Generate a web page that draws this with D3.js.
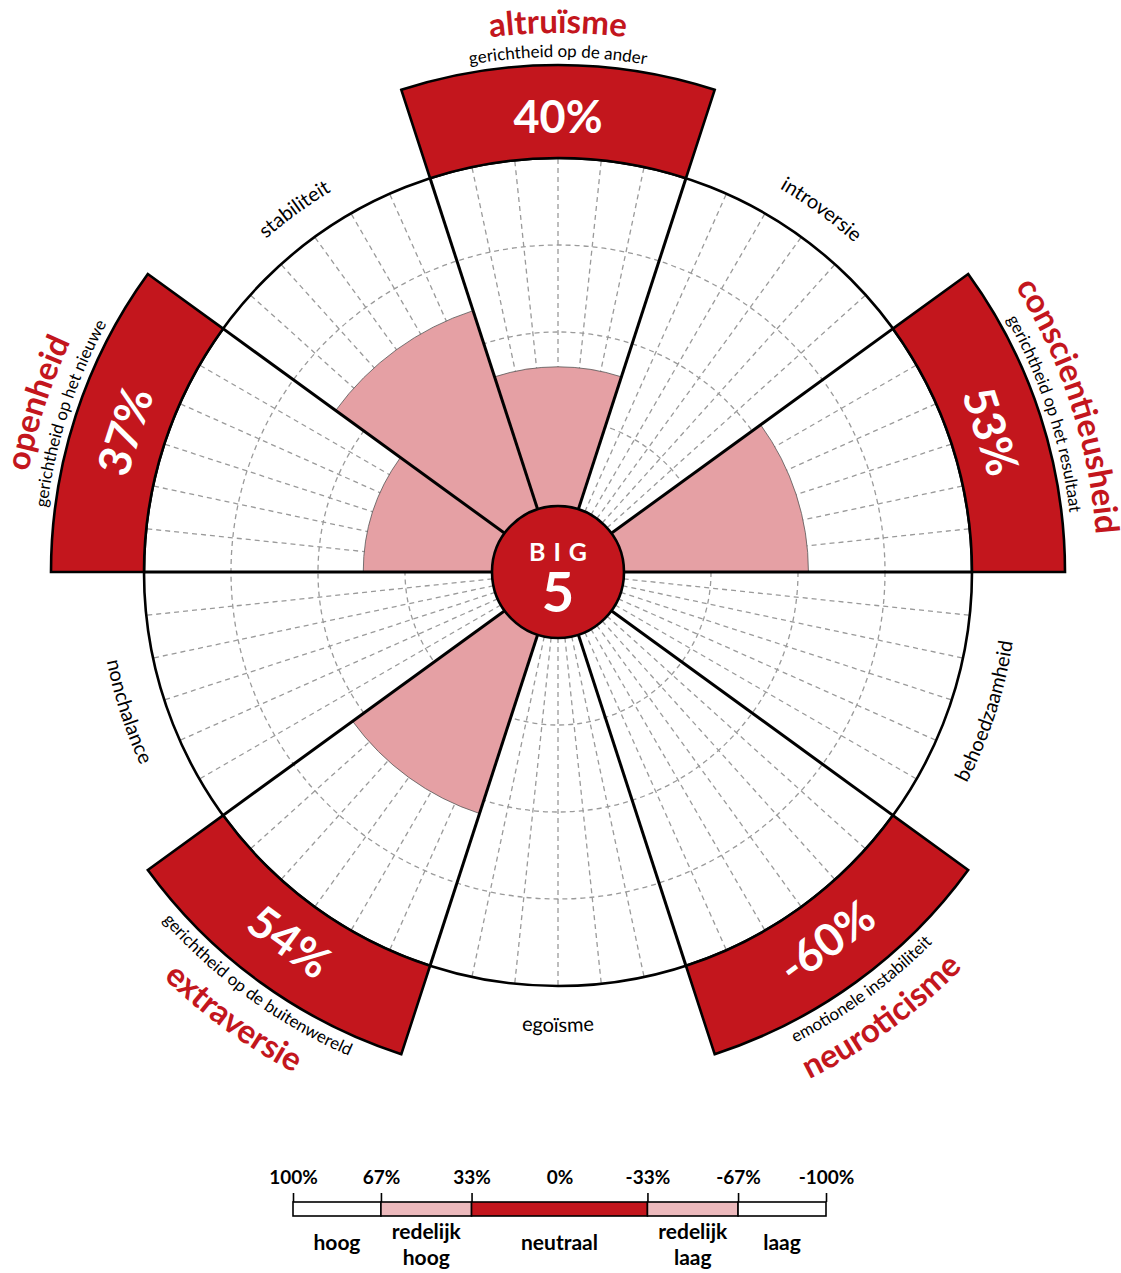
<!DOCTYPE html>
<html>
<head>
<meta charset="utf-8">
<script src="https://cdn.jsdelivr.net/npm/d3@7"></script>
<style>
  html, body { margin: 0; padding: 0; background: #fff; }
  svg { display: block; font-family: Lato, "Open Sans", sans-serif; }
</style>
</head>
<body>
<svg id="chart" width="1121" height="1273"></svg>
<script>
// ---- data ----
const traitNames = ["altruïsme", "conscientieusheid", "neuroticisme", "extraversie", "openheid"];
const traitSubtitles = ["gerichtheid op de ander", "gerichtheid op het resultaat", "emotionele instabiliteit", "gerichtheid op de buitenwereld", "gerichtheid op het nieuwe"];
const traitValues = [40, 53, -60, 54, 37];
const oppositeNames = ["egoïsme", "nonchalance", "stabiliteit", "introversie", "behoedzaamheid"];
const centerLines = ["BIG", "5"];
const legendBreaks = [100, 67, 33, 0, -33, -67, -100];
const legendLevels = [["hoog"], ["redelijk", "hoog"], ["neutraal"], ["redelijk", "laag"], ["laag"]];

// ---- layout ----
const W = 1121, H = 1273;
const cx = 558, cy = 572;
const rInner = 66, rOuter = 414, rBand = 507;
const RED = "#c3161d", PINK = "#e5a0a4", LPINK = "#ecb9bc";
const deg = Math.PI / 180;
const sectorSpan = 36;

const svg = d3.select("#chart");
const g = svg.append("g").attr("transform", `translate(${cx},${cy})`);

const rScale = d3.scaleLinear().domain([0, 100]).range([rInner, rOuter]);
const traitAngle = d3.scaleLinear().domain([0, traitNames.length]).range([0, 360]);

const sectors = [];
traitNames.forEach((n, i) => {
  const a = traitAngle(i);
  sectors.push({ name: n, angle: a, trait: true, idx: i });
  sectors.push({ name: oppositeNames[i], angle: (a + 180) % 360, trait: false, idx: i });
});

const pt = (a, r) => [r * Math.sin(a * deg), -r * Math.cos(a * deg)];

// background circle
g.append("circle").attr("r", rOuter).attr("fill", "#fff");

// dashed grid circles
const gridVals = [25, 50, 75];
g.append("g").selectAll("circle").data(gridVals).join("circle")
  .attr("r", d => rScale(d)).attr("fill", "none")
  .attr("stroke", "#9a9a9a").attr("stroke-width", 1.3).attr("stroke-dasharray", "5,4");

// dashed radials every 6 degrees (except sector boundaries)
const radialAngles = d3.range(0, 360, 6).filter(a => ((a - 18) % 36 + 36) % 36 !== 0);
g.append("g").selectAll("line").data(radialAngles).join("line")
  .attr("x1", a => pt(a, rInner)[0]).attr("y1", a => pt(a, rInner)[1])
  .attr("x2", a => pt(a, rOuter)[0]).attr("y2", a => pt(a, rOuter)[1])
  .attr("stroke", "#9a9a9a").attr("stroke-width", 1.3).attr("stroke-dasharray", "5,4");

// value wedges (negative values shown in opposite sector)
const wedgeData = traitValues.map((v, i) => ({
  v: Math.abs(v),
  angle: v >= 0 ? traitAngle(i) : (traitAngle(i) + 180) % 360
}));
const wedgeArc = d3.arc()
  .innerRadius(0)
  .outerRadius(d => rScale(d.v))
  .startAngle(d => (d.angle - sectorSpan / 2) * deg)
  .endAngle(d => (d.angle + sectorSpan / 2) * deg);
g.append("g").selectAll("path").data(wedgeData).join("path")
  .attr("d", wedgeArc).attr("fill", PINK).attr("stroke", "#555").attr("stroke-width", 0.8);

// outer circle
g.append("circle").attr("r", rOuter).attr("fill", "none").attr("stroke", "#000").attr("stroke-width", 2.6);

// red bands for traits
const bandArc = d3.arc()
  .innerRadius(rOuter).outerRadius(rBand)
  .startAngle(d => (d.angle - sectorSpan / 2) * deg)
  .endAngle(d => (d.angle + sectorSpan / 2) * deg);
g.append("g").selectAll("path").data(sectors.filter(s => s.trait)).join("path")
  .attr("d", bandArc).attr("fill", RED).attr("stroke", "#000").attr("stroke-width", 2.6)
  .attr("stroke-linejoin", "miter");

// sector boundary lines
const boundaryAngles = d3.range(18, 360, 36);
g.append("g").selectAll("line").data(boundaryAngles).join("line")
  .attr("x1", 0).attr("y1", 0)
  .attr("x2", a => pt(a, rOuter)[0]).attr("y2", a => pt(a, rOuter)[1])
  .attr("stroke", "#000").attr("stroke-width", 3);

// center circle
g.append("circle").attr("r", rInner).attr("fill", RED).attr("stroke", "#000").attr("stroke-width", 2.6);
g.append("text").attr("x", 4).attr("y", -11).attr("text-anchor", "middle")
  .attr("fill", "#fff").attr("font-weight", 700).attr("font-size", 25).attr("letter-spacing", 8)
  .text(centerLines[0]);
g.append("text").attr("x", 0).attr("y", 40).attr("text-anchor", "middle")
  .attr("fill", "#fff").attr("font-weight", 700).attr("font-size", 56)
  .text(centerLines[1]);

// curved text helper
const defs = svg.append("defs");
let pid = 0;
function curvedText(angle, r, text, attrs) {
  const flip = angle > 90 && angle < 270;
  const span = 80;
  const a0 = flip ? angle + span : angle - span;
  const a1 = flip ? angle - span : angle + span;
  const p0 = pt(a0, r), p1 = pt(a1, r);
  const id = "tp" + (pid++);
  defs.append("path").attr("id", id)
    .attr("d", `M${p0[0] + cx},${p0[1] + cy} A${r},${r} 0 0 ${flip ? 0 : 1} ${p1[0] + cx},${p1[1] + cy}`);
  const t = svg.append("text").attr("text-anchor", "middle");
  Object.entries(attrs).forEach(([k, v]) => t.attr(k, v));
  t.append("textPath").attr("href", "#" + id).attr("startOffset", "50%").text(text);
}

sectors.forEach(s => {
  const flip = s.angle > 90 && s.angle < 270;
  if (s.trait) {
    curvedText(s.angle, flip ? 566 : 539, s.name, { fill: RED, "font-weight": 700, "font-size": 33 });
    curvedText(s.angle, flip ? 527 : 515, traitSubtitles[s.idx], { fill: "#000", "font-size": 17 });
    const p = pt(s.angle, 456);
    const rot = flip ? s.angle - 180 : (s.angle > 180 ? s.angle - 360 : s.angle);
    g.append("text")
      .attr("transform", `translate(${p[0]},${p[1]}) rotate(${rot})`)
      .attr("text-anchor", "middle").attr("dominant-baseline", "central")
      .attr("fill", "#fff").attr("font-weight", 700).attr("font-size", 45)
      .text(traitValues[s.idx] + "%");
  } else {
    curvedText(s.angle, flip ? 460 : 443, s.name, { fill: "#000", "font-size": 20 });
  }
});

// ---- legend ----
const lx = d3.scaleLinear().domain([100, -100]).range([293, 826]);
const ly0 = 1202, lh = 14;
const levelColor = d3.scaleOrdinal().domain(d3.range(5)).range(["#fff", LPINK, RED, LPINK, "#fff"]);
const segs = [[100, 67], [67, 33], [33, -33], [-33, -67], [-67, -100]];
const leg = svg.append("g");
leg.selectAll("rect").data(segs).join("rect")
  .attr("x", d => lx(d[0])).attr("y", ly0)
  .attr("width", d => lx(d[1]) - lx(d[0])).attr("height", lh)
  .attr("fill", (d, i) => levelColor(i)).attr("stroke", "#000").attr("stroke-width", 1.6);

const axis = d3.axisTop(lx).tickValues(legendBreaks).tickFormat(d => d + "%").tickSize(9).tickPadding(9);
const ax = leg.append("g").attr("transform", `translate(0,${ly0})`).call(axis);
ax.select(".domain").remove();
ax.selectAll(".tick line").attr("stroke", "#000").attr("stroke-width", 1.6)
  .filter(d => d === 0).remove();
ax.selectAll(".tick text").attr("fill", "#000").attr("font-size", 19).attr("font-weight", 700)
  .attr("font-family", "Lato, sans-serif");

legendLevels.forEach((lines, i) => {
  const xm = (lx(segs[i][0]) + lx(segs[i][1])) / 2;
  const y0 = lines.length === 1 ? 1250 : 1239;
  lines.forEach((ln, j) => {
    leg.append("text").attr("x", xm).attr("y", y0 + j * 26).attr("text-anchor", "middle")
      .attr("font-size", 21).attr("font-weight", 700).attr("fill", "#000").text(ln);
  });
});
</script>
</body>
</html>
